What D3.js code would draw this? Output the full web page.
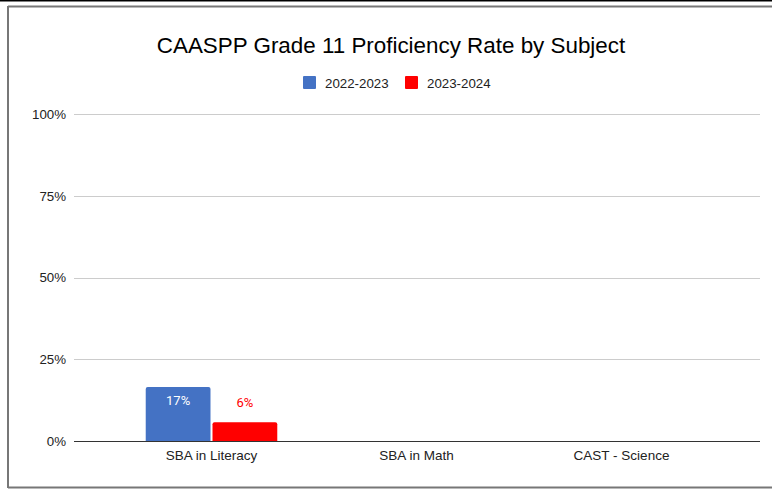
<!DOCTYPE html>
<html>
<head>
<meta charset="utf-8">
<script src="https://cdn.jsdelivr.net/npm/d3@7"></script>
<style>
  body { margin: 0; background: #fff; }
  svg text { font-family: "Liberation Sans", Arial, sans-serif; }
</style>
</head>
<body>
<div id="box-bar"></div>
<script>
var categories = ["SBA in Literacy", "SBA in Math", "CAST - Science"];
var seriesNames = ["2022-2023", "2023-2024"];
var values2223 = [0.165, null, null];
var values2324 = [0.057, null, null];
var valueLabels2223 = ["17%", "", ""];
var valueLabels2324 = ["6%", "", ""];
var yTicks = [0, 0.25, 0.5, 0.75, 1];

var colors = ["#4472c4", "#ff0000"];
var width = 772, height = 489;

var svg = d3.select("#box-bar").append("svg")
  .attr("width", width).attr("height", height);

// frame like the screenshot
svg.append("rect").attr("x", 0).attr("y", 0).attr("width", width).attr("height", 1.5).attr("fill", "#000");
svg.append("line").attr("x1", 8).attr("x2", 772).attr("y1", 6.5).attr("y2", 6.5)
  .attr("stroke", "#777").attr("stroke-width", 2);
svg.append("line").attr("x1", 8).attr("x2", 8).attr("y1", 6).attr("y2", 488)
  .attr("stroke", "#777").attr("stroke-width", 2);
svg.append("line").attr("x1", 8).attr("x2", 772).attr("y1", 487.5).attr("y2", 487.5)
  .attr("stroke", "#777").attr("stroke-width", 2);

svg.append("text")
  .attr("x", 391).attr("y", 53)
  .attr("text-anchor", "middle")
  .attr("font-size", 22.4)
  .attr("fill", "#000")
  .text("CAASPP Grade 11 Proficiency Rate by Subject");

// legend
var legend = svg.append("g").attr("transform", "translate(303,76)");
var legendX = [0, 102];
seriesNames.forEach(function(name, i){
  legend.append("rect").attr("x", legendX[i]).attr("y", 0)
    .attr("width", 13).attr("height", 13).attr("rx", 1).attr("fill", colors[i]);
  legend.append("text").attr("x", legendX[i] + 22).attr("y", 11.5)
    .attr("font-size", 13.3).attr("fill", "#222").text(name);
});

var y = d3.scaleLinear().domain([0, 1]).range([441, 114]);
var x = d3.scaleBand().domain(categories).range([109, 724]);
var inner = d3.scaleBand().domain(seriesNames).range([0, x.bandwidth()]).paddingInner(0.03).paddingOuter(0.55);

// grid
var grid = svg.append("g");
grid.selectAll("line").data(yTicks).enter().append("line")
  .attr("x1", 74).attr("x2", 760)
  .attr("y1", function(d){ return Math.round(y(d)) + 0.5; })
  .attr("y2", function(d){ return Math.round(y(d)) + 0.5; })
  .attr("stroke", function(d){ return d === 0 ? "#333" : "#ccc"; });

var yAxis = d3.axisLeft(y).tickValues(yTicks).tickSize(0).tickPadding(0)
  .tickFormat(d3.format(".0%"));
svg.append("g").attr("transform", "translate(66,0)").call(yAxis)
  .call(function(g){ g.select(".domain").remove(); })
  .selectAll("text")
  .attr("font-size", 13.3).attr("fill", "#222")
  .style("font-family", "'Liberation Sans', Arial, sans-serif");

var xAxis = d3.axisBottom(x).tickSize(0).tickPadding(0);
svg.append("g").attr("transform", "translate(0,450)").call(xAxis)
  .call(function(g){ g.select(".domain").remove(); })
  .selectAll("text")
  .attr("font-size", 13.5).attr("fill", "#222").attr("dy", "0.71em")
  .style("font-family", "'Liberation Sans', Arial, sans-serif");

// bars
var series = [
  { name: seriesNames[0], values: values2223, labels: valueLabels2223 },
  { name: seriesNames[1], values: values2324, labels: valueLabels2324 }
];

series.forEach(function(s, si){
  var rows = categories.map(function(c, i){
    return { cat: c, v: s.values[i], label: s.labels[i] };
  }).filter(function(d){ return d.v != null; });

  svg.append("g").selectAll("path").data(rows).enter().append("path")
    .attr("fill", colors[si])
    .attr("d", function(d){
      var x0 = x(d.cat) + inner(s.name), w = inner.bandwidth();
      var y0 = y(d.v), y1 = y(0), r = 2;
      return "M" + x0 + "," + y1 + "V" + (y0 + r) + "Q" + x0 + "," + y0 + " " + (x0 + r) + "," + y0 +
        "H" + (x0 + w - r) + "Q" + (x0 + w) + "," + y0 + " " + (x0 + w) + "," + (y0 + r) + "V" + y1 + "Z";
    });

  svg.append("g").selectAll("text").data(rows).enter().append("text")
    .attr("x", function(d){ return x(d.cat) + inner(s.name) + inner.bandwidth() / 2; })
    .attr("y", function(d){
      var h = y(0) - y(d.v);
      return h > 30 ? y(d.v) + 18 : y(d.v) - 15;
    })
    .attr("text-anchor", "middle")
    .attr("font-size", 13)
    .style("font-family", "Roboto, sans-serif")
    .attr("fill", function(d){
      var h = y(0) - y(d.v);
      return h > 30 ? "#fff" : colors[si];
    })
    .text(function(d){ return d.label; });
});
</script>
</body>
</html>
